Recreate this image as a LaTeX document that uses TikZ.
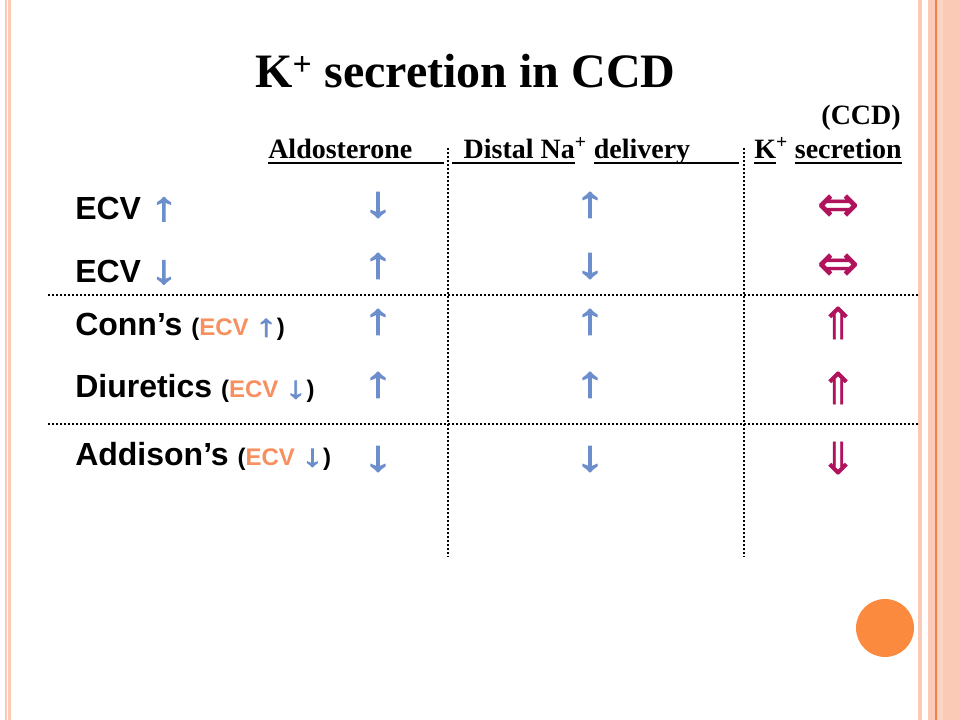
\documentclass[tikz,border=0pt]{standalone}
\usepackage{fontspec}
\setmainfont{Liberation Serif}
\setsansfont{Liberation Sans}
\newfontface\arrowface[FakeBold=3,FakeStretch=1.4]{Liberation Serif}
\newfontface\dblface[FakeBold=0.8]{DejaVu Sans}

\definecolor{arrowblue}{RGB}{108,142,204}
\definecolor{kmagenta}{RGB}{176,18,92}
\definecolor{ecvorange}{RGB}{247,143,94}
\definecolor{dotorange}{RGB}{252,138,62}
\definecolor{stripesalmon}{RGB}{251,202,182}
\definecolor{stripelight}{RGB}{252,212,196}
\definecolor{stripeline}{RGB}{240,128,80}

\newcommand\uparr[1][30]{\textcolor{arrowblue}{\arrowface\fontsize{#1}{#1}\selectfont ↑}}
\newcommand\downarr[1][30]{\textcolor{arrowblue}{\arrowface\fontsize{#1}{#1}\selectfont ↓}}
\newcommand\ecvnote[1]{{\fontsize{18}{20}\selectfont(\textcolor{ecvorange}{ECV} #1)}}
% underline with a fixed rule, natural or given width
\newcommand\ulnat[1]{\sbox0{#1}\rlap{\rule[-3.6pt]{\wd0}{1.5pt}}\usebox0}
\newcommand\ulwide[3][l]{\rlap{\rule[-3.6pt]{#2}{1.5pt}}\makebox[#2][#1]{#3}}

\tikzset{
  title/.style={anchor=base west, inner sep=0pt, font=\bfseries\fontsize{36}{40}\selectfont},
  colhead/.style={anchor=base west, inner sep=0pt, font=\bfseries\fontsize{21}{24}\selectfont},
  rowlabel/.style={anchor=base west, inner sep=0pt, font=\sffamily\bfseries\fontsize{24}{28}\selectfont},
  colarrow/.style={inner sep=0pt, text=arrowblue, font=\arrowface\fontsize{32}{32}\selectfont},
  karrow/.style={inner sep=0pt, text=kmagenta, font=\dblface\fontsize{33}{33}\selectfont},
  kwide/.style={font=\dblface\fontsize{38}{38}\selectfont},
  tablerule/.style={line width=1.5pt, dash pattern=on 1.5pt off 1.5pt}
}

\begin{document}
\begin{tikzpicture}[x=0.75pt,y=0.75pt]
  \useasboundingbox (0,0) rectangle (960,720);

  % slide frame
  \fill[stripesalmon] (5,0) rectangle (6.5,720);
  \fill[stripesalmon] (8,0) rectangle (11,720);
  \fill[stripesalmon] (918,0) rectangle (922,720);
  \fill[stripesalmon] (928,0) rectangle (960,720);
  \fill[stripelight] (938,0) rectangle (943,720);
  \draw[stripeline, line width=1.5pt] (936,0) -- (936,720);
  \fill[dotorange] (885,92) circle [radius=21.75pt];

  % table rules
  \draw[tablerule] (448,572) -- (448,163);
  \draw[tablerule] (744,572) -- (744,163);
  \draw[tablerule] (48,425) -- (918,425);
  \draw[tablerule] (48,296) -- (918,296);

  \node[title] (Title) at (255,632) {K\textsuperscript{+} secretion in CCD};
  \node[colhead, anchor=base east] (CCD) at (901,595) {(CCD)};

  \node[colhead] (HeadAldo) at (268,561) {\ulwide{132pt}{Aldosterone}};
  \node[colhead] (HeadNa) at (452,561) {\ulwide[r]{92pt}{Distal Na}\textsuperscript{+} \ulwide{109pt}{delivery}};
  \node[colhead] (HeadK) at (754,561) {\ulnat{K}\textsuperscript{+} \ulnat{secretion}};

  \node[rowlabel] (RowUp) at (75,500) {ECV \uparr};
  \node[rowlabel] (RowDown) at (75,437) {ECV \downarr};
  \node[rowlabel] (RowConn) at (75,384) {Conn’s \ecvnote{\uparr[23]}};
  \node[rowlabel] (RowDiur) at (75,322) {Diuretics \ecvnote{\downarr[23]}};
  \node[rowlabel] (RowAdd) at (75,254) {Addison’s \ecvnote{\downarr[23]}};

  \begin{scope}[every node/.style={colarrow}]
    \node (AldoUp) at (378,515) {↓};
    \node (AldoDown) at (378,454) {↑};
    \node (AldoConn) at (378,398) {↑};
    \node (AldoDiur) at (378,335) {↑};
    \node (AldoAdd) at (378,261) {↓};
    \node (NaUp) at (590,515) {↑};
    \node (NaDown) at (590,454) {↓};
    \node (NaConn) at (590,398) {↑};
    \node (NaDiur) at (590,335) {↑};
    \node (NaAdd) at (590,261) {↓};
  \end{scope}

  \begin{scope}[every node/.style={karrow}]
    \node[kwide] (KUp) at (838,512) {⇔};
    \node[kwide] (KDown) at (838,453) {⇔};
    \node (KConn) at (838,397) {⇑};
    \node (KDiur) at (838,332) {⇑};
    \node (KAdd) at (838,262) {⇓};
  \end{scope}
\end{tikzpicture}
\end{document}
